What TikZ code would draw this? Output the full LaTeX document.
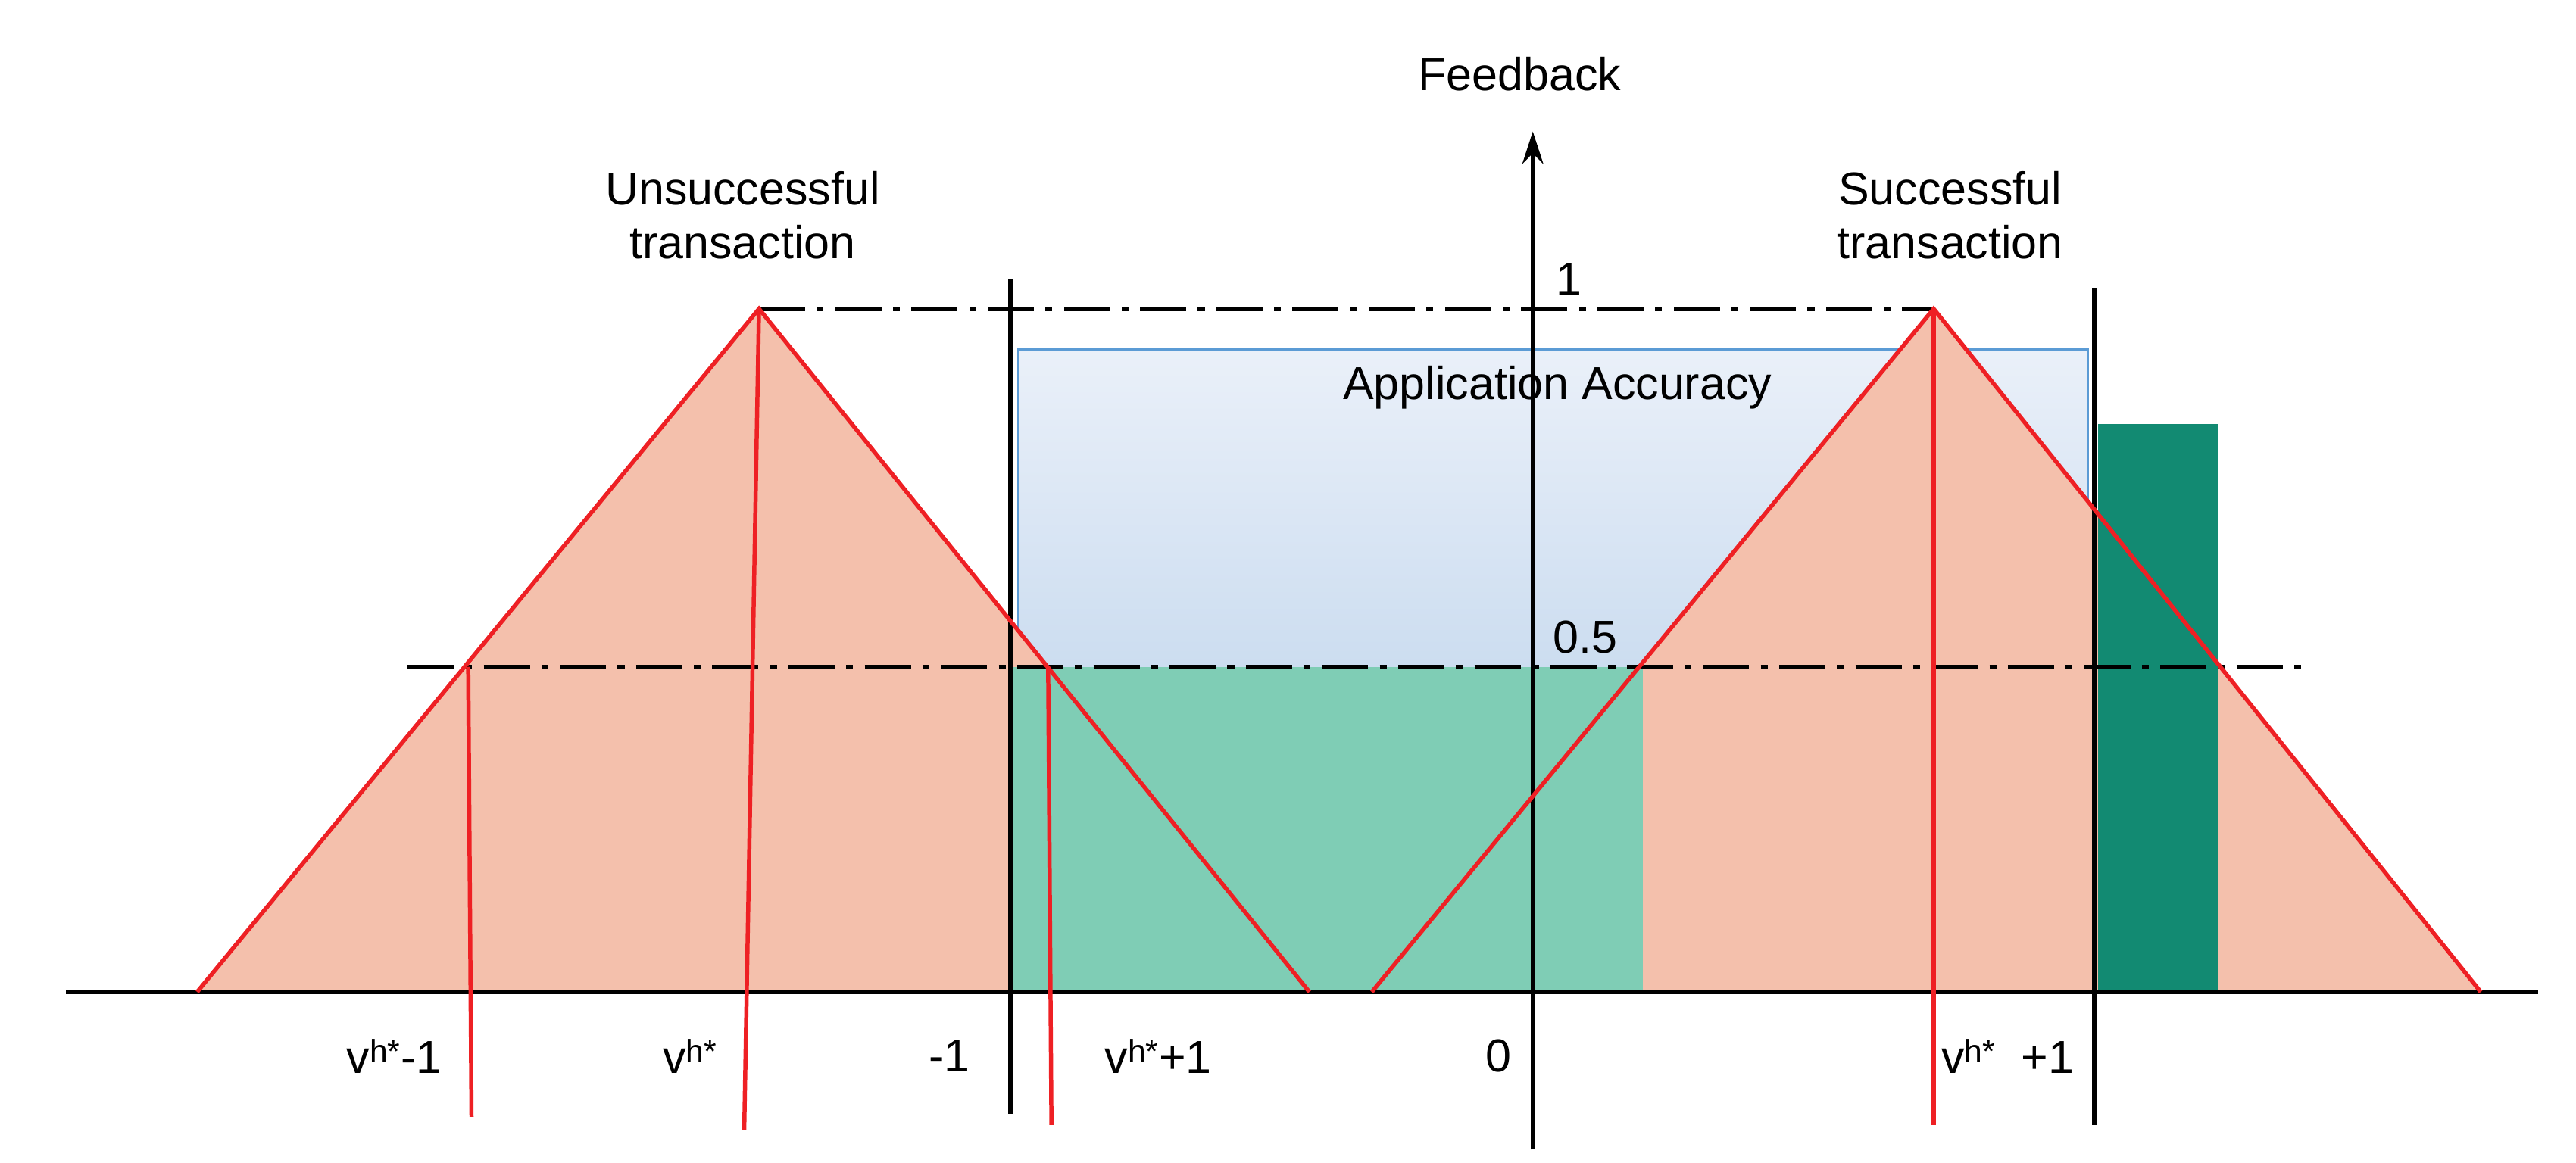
\documentclass[tikz,border=0pt]{standalone}
\usepackage{fontspec}
\setmainfont{Liberation Sans}
\usetikzlibrary{arrows.meta}
\definecolor{salmon}{HTML}{F4C0AC}
\definecolor{lgreen}{HTML}{7FCDB5}
\definecolor{dgreen}{HTML}{128A72}
\definecolor{bluetop}{HTML}{EAF0F9}
\definecolor{bluebot}{HTML}{CCDDF0}
\definecolor{blueline}{HTML}{5B9BD5}
\definecolor{redl}{HTML}{EE2024}
\begin{document}
\begin{tikzpicture}[x=0.05cm,y=-0.05cm,
  blk/.style={line width=4.2pt,black},
  red/.style={line width=3.6pt,redl},
  dd/.style={line width=3.6pt,black,dash pattern=on 40pt off 10pt on 6pt off 10pt},
  lbl/.style={font=\fontsize{40}{46}\selectfont,align=center,inner sep=0pt}]
\useasboundingbox (0,0) rectangle (1568,708);
% blue accuracy box
\shade[top color=bluetop,bottom color=bluebot] (620,213) rectangle (1271,406);
\draw[blueline,line width=2pt] (620,406) -- (620,213) -- (1271,213) -- (1271,406);
% triangles
\fill[salmon] (120,604) -- (462,188) -- (797,604) -- cycle;
\fill[salmon] (835,604) -- (1177,188) -- (1510,604) -- cycle;
\fill[lgreen] (615,406) rectangle (1000,604);
\fill[dgreen] (1277,258) rectangle (1350,604);
% dash-dot lines
\coordinate (p1a) at (462,188); \coordinate (p1b) at (1177,188);
\coordinate (h1) at (248,406); \coordinate (h2) at (1405,406);
\draw[dd] (p1a) -- (p1b);
\draw[dd] (h1) -- (h2);
% black lines
\coordinate (a0) at (40,604); \coordinate (a1) at (1545,604);
\draw[blk] (a0) -- (a1);
\coordinate (v0) at (933,700); \coordinate (v1) at (933,80);
\draw[blk,-{Stealth[length=28pt,width=18pt]}] (v0) -- (v1);
\coordinate (m0) at (615,170); \coordinate (m1) at (615,678);
\draw[blk] (m0) -- (m1);
\coordinate (n0) at (1275,175); \coordinate (n1) at (1275,685);
\draw[blk] (n0) -- (n1);
% red lines
\coordinate (L0) at (120,604); \coordinate (L1) at (462,188); \coordinate (L2) at (797,604);
\coordinate (R0) at (835,604); \coordinate (R1) at (1177,188); \coordinate (R2) at (1510,604);
\draw[red,line join=miter] (L0) -- (L1) -- (L2);
\draw[red,line join=miter] (R0) -- (R1) -- (R2);
\draw[red] (285,406) -- (287,680);
\draw[red] (L1) -- (453,688);
\draw[red] (638,406) -- (640,685);
\draw[red] (R1) -- (1177,685);
% labels
\node[lbl] (fb) at (925,45) {Feedback};
\node[lbl] (one) at (955,170) {1};
\node[lbl] (half) at (965,388) {0.5};
\node[lbl] (acc) at (948,236) {Application Accuracy};
\node[lbl] (uns) at (452,131) {Unsuccessful\\transaction};
\node[lbl] (suc) at (1187,131) {Successful\\transaction};
\node[lbl] (b1) at (240,643) {v\textsuperscript{h*}-1};
\node[lbl] (b2) at (420,643) {v\textsuperscript{h*}};
\node[lbl] (b3) at (578,643) {-1};
\node[lbl] (b4) at (705,643) {v\textsuperscript{h*}+1};
\node[lbl] (b5) at (912,643) {0};
\node[lbl] (b6) at (1222,643) {v\textsuperscript{h*}\ \ +1};
\end{tikzpicture}
\end{document}
